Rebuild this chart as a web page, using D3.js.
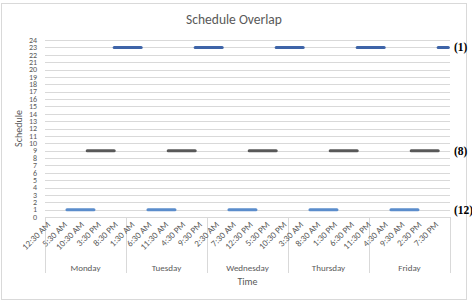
<!DOCTYPE html>
<html>
<head>
    <title>Schedule Overlap</title>
    <meta charset="UTF-8">
    <script src="https://d3js.org/d3.v7.min.js"></script>
    <style>
        body { margin: 0; background: #fff; }
        text { font-family: Carlito, Calibri, Lato, sans-serif; fill: #595959; }
    </style>
</head>
<body>
    <div id="chart"></div>
    <script>

        // categories: hourly slots, grouped by day
        const days = ["Monday", "Tuesday", "Wednesday", "Thursday", "Friday"];
        const hours = ["12:30 AM", "1:30 AM", "2:30 AM", "3:30 AM", "4:30 AM", "5:30 AM",
            "6:30 AM", "7:30 AM", "8:30 AM", "9:30 AM", "10:30 AM", "11:30 AM",
            "12:30 PM", "1:30 PM", "2:30 PM", "3:30 PM", "4:30 PM", "5:30 PM",
            "6:30 PM", "7:30 PM", "8:30 PM", "9:30 PM", "10:30 PM", "11:30 PM"];
        const yTicks = d3.range(0, 25);

        // each shift: schedule value and [first slot, last slot] runs (slot = day*24 + hour)
        const shiftNames = ["(1)", "(8)", "(12)"];
        const shiftValues = [23, 9, 1];
        const shiftColors = ["#3e64a8", "#595959", "#5b8dcc"];
        const shiftRuns = [
            [[20, 28], [44, 52], [68, 76], [92, 100], [116, 119]],
            [[12, 20], [36, 44], [60, 68], [84, 92], [108, 116]],
            [[6, 14], [30, 38], [54, 62], [78, 86], [102, 110]]
        ];

        const width = 472, height = 307;
        const margin = {left: 45, right: 22, top: 40, bottom: 90};

        const slots = [];
        days.forEach((d, i) => hours.forEach((h, j) => slots.push({day: d, hour: h, idx: i * 24 + j})));

        const svg = d3.select("#chart")
          .append("svg")
            .attr("width", width)
            .attr("height", height);

        // chart frame
        svg.append("rect")
            .attr("x", 1.5).attr("y", 3.5)
            .attr("width", 465).attr("height", 296)
            .attr("fill", "#fff")
            .attr("stroke", "#d9d9d9");

        const x = d3.scaleBand()
            .domain(slots.map(d => d.idx))
            .range([margin.left, width - margin.right])
            .padding(0);

        const y = d3.scaleLinear()
            .domain([0, 24])
            .range([height - margin.bottom, margin.top]);

        const cx = i => x(i) + x.bandwidth() / 2;

        // gridlines
        svg.append("g")
          .selectAll("line")
          .data(yTicks)
          .join("line")
            .attr("x1", margin.left)
            .attr("x2", width - margin.right)
            .attr("y1", d => Math.round(y(d)) + 0.5)
            .attr("y2", d => Math.round(y(d)) + 0.5)
            .attr("stroke", "#d9d9d9")
            .attr("stroke-width", 1);

        // y labels
        svg.append("g")
          .selectAll("text")
          .data(yTicks)
          .join("text")
            .attr("x", 37)
            .attr("y", d => y(d))
            .attr("dy", "0.35em")
            .attr("text-anchor", "end")
            .style("font-size", "8px")
            .text(d => d);

        // day group separators
        const bounds = days.map((d, i) => x(i * 24)).concat([width - margin.right]);
        svg.append("g")
          .selectAll("line")
          .data(bounds)
          .join("line")
            .attr("x1", d => Math.round(d) + 0.5)
            .attr("x2", d => Math.round(d) + 0.5)
            .attr("y1", y(0))
            .attr("y2", 273)
            .attr("stroke", "#d9d9d9");

        // hour labels every 5 slots
        svg.append("g")
          .selectAll("text")
          .data(slots.filter(d => d.idx % 5 == 0))
          .join("text")
            .attr("transform", d => `translate(${cx(d.idx) + 2}, ${y(0) + 6}) rotate(-45)`)
            .attr("text-anchor", "end")
            .attr("dy", "0.35em")
            .style("font-size", "9px")
            .text(d => d.hour);

        // day labels
        svg.append("g")
          .selectAll("text")
          .data(days)
          .join("text")
            .attr("x", (d, i) => (bounds[i] + bounds[i + 1]) / 2)
            .attr("y", 271)
            .attr("text-anchor", "middle")
            .style("font-size", "9px")
            .text(d => d);

        // shift lines
        const line = d3.line()
            .x(d => cx(d[0]))
            .y(d => y(d[1]));

        shiftRuns.forEach((runs, s) => {
            svg.append("g")
              .selectAll("path")
              .data(runs)
              .join("path")
                .attr("d", r => line(d3.range(r[0], r[1] + 1).map(i => [i, shiftValues[s]])))
                .attr("fill", "none")
                .attr("stroke", shiftColors[s])
                .attr("stroke-width", 3)
                .attr("stroke-linecap", "round");
        });

        // shift labels at the right
        svg.append("g")
          .selectAll("text")
          .data(shiftNames)
          .join("text")
            .attr("x", 454)
            .attr("y", (d, i) => y(shiftValues[i]))
            .attr("dy", "0.35em")
            .style("font-family", "'Liberation Serif', 'Times New Roman', serif")
            .style("font-weight", "bold")
            .style("font-size", "11.5px")
            .style("fill", "#000")
            .text(d => d);

        // titles
        svg.append("text")
            .attr("x", 234)
            .attr("y", 24)
            .attr("text-anchor", "middle")
            .style("font-size", "13.5px")
            .text("Schedule Overlap");

        svg.append("text")
            .attr("x", (margin.left + width - margin.right) / 2)
            .attr("y", 285)
            .attr("text-anchor", "middle")
            .style("font-size", "10px")
            .text("Time");

        svg.append("text")
            .attr("transform", `translate(22, ${(y(0) + y(24)) / 2}) rotate(-90)`)
            .attr("text-anchor", "middle")
            .style("font-size", "10px")
            .text("Schedule");

    </script>
</body>
</html>
